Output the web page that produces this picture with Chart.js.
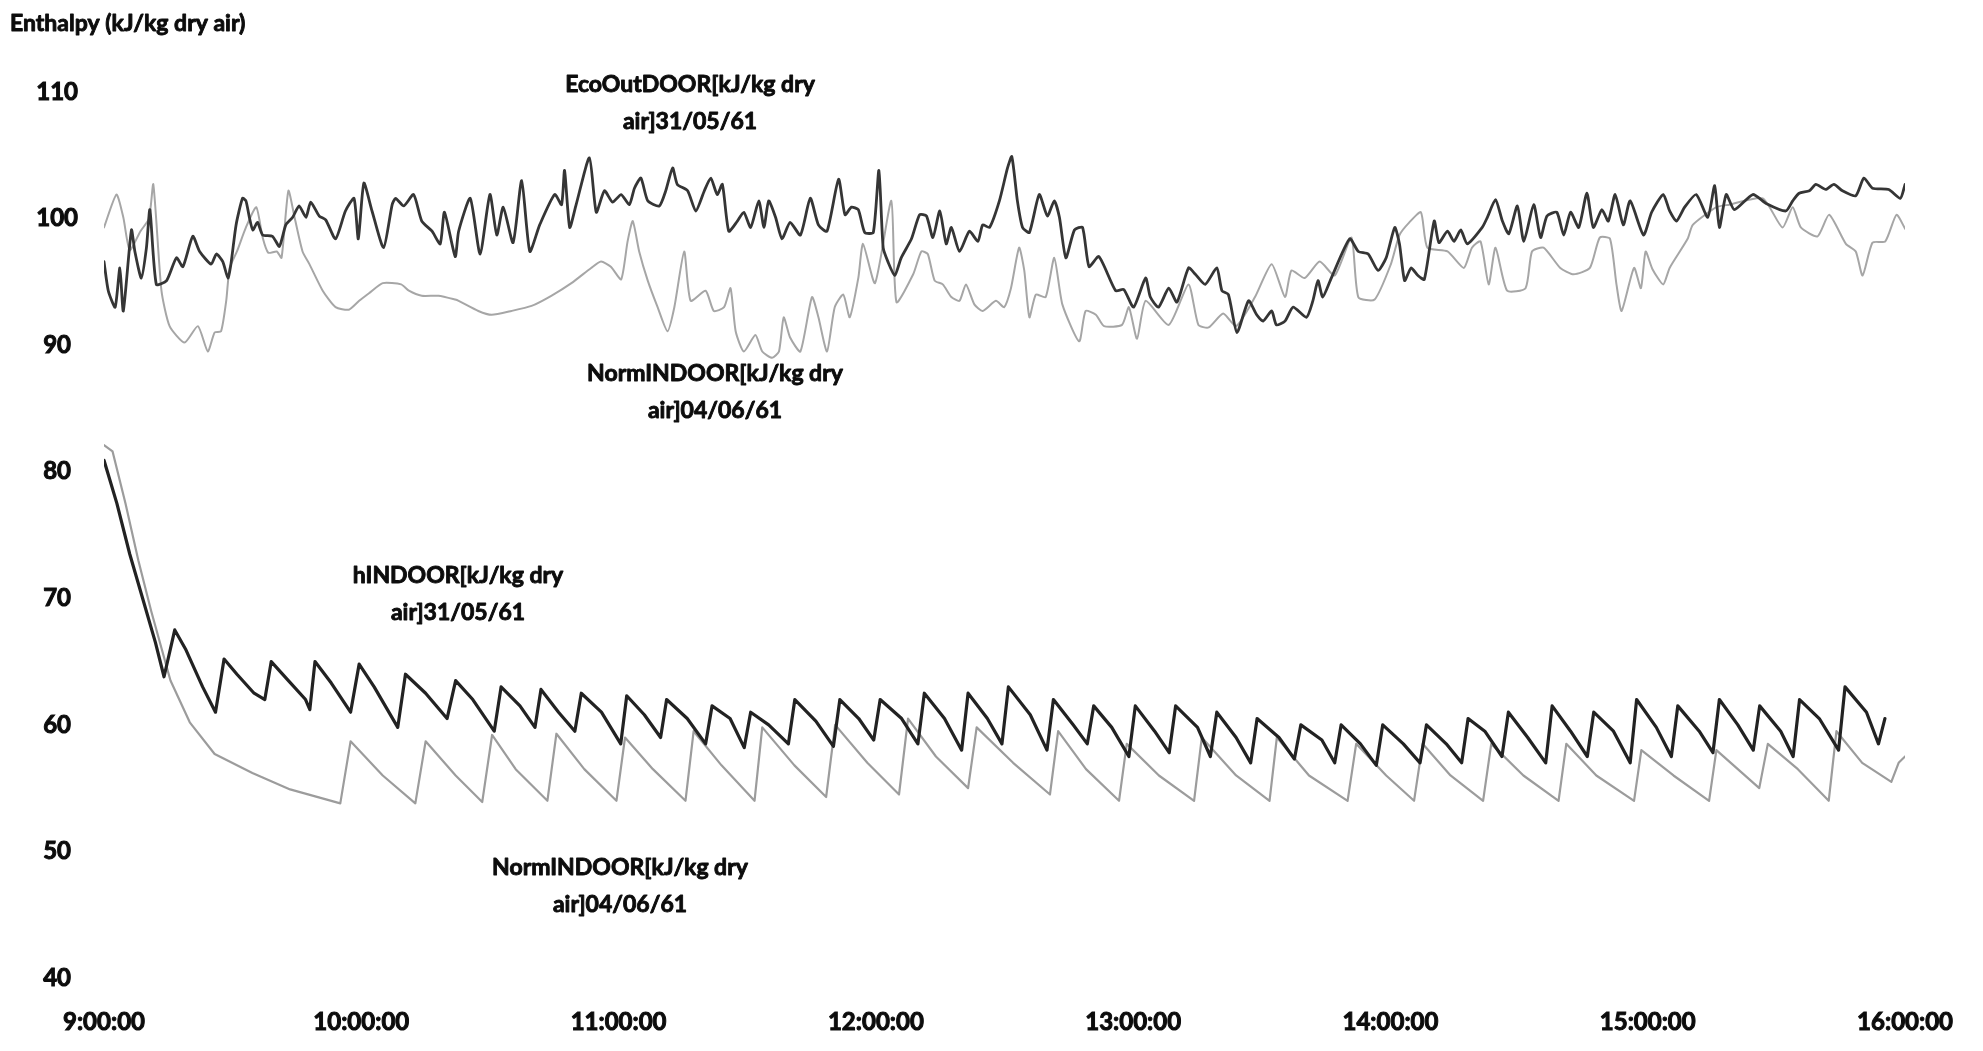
<!DOCTYPE html>
<html>
<head>
<meta charset="utf-8">
<script src="https://cdn.jsdelivr.net/npm/chart.js@4.4.1/dist/chart.umd.min.js"></script>
<style>
  html, body { margin: 0; padding: 0; background: #ffffff; }
  #wrap { width: 1983px; height: 1051px; position: relative; }
  canvas { display: block; }
</style>
</head>
<body>
<div id="wrap"><canvas id="chart" width="1983" height="1051"></canvas></div>
<script>
// Enthalpy records, 9:00 to 16:00; time is minutes after 9:00.
const yTicks = [40, 50, 60, 70, 80, 90, 100, 110];
const xTickLabels = ['9:00:00', '10:00:00', '11:00:00', '12:00:00', '13:00:00', '14:00:00', '15:00:00', '16:00:00'];

// EcoOutDOOR 31/05/61
const ecoOutTime = [0, 1.0, 2.6, 3.7, 4.5, 6.4, 7.2, 8.7, 9.9, 10.7, 12.2, 14.6, 16.9, 18.4, 20.7, 22.3, 25.0, 26.2, 27.7, 28.9, 29.6, 30.8, 32.3, 33.1, 33.9, 34.7, 35.8, 37.0, 39.3, 40.9, 42.4, 44.0, 45.5, 47.1, 48.2, 50.2, 51.7, 54.0, 56.3, 58.3, 59.3, 60.6, 62.5, 65.2, 67.2, 68.0, 69.9, 72.2, 74.1, 76.5, 78.4, 79.4, 81.9,
  82.7, 85.4, 87.7, 90.0, 91.6, 93.1, 95.4, 97.4, 99.3, 101.6, 105.1, 106.7, 107.4, 108.6, 110.1, 113.2, 114.8, 116.7, 118.6, 120.6, 122.5, 123.7, 125.2, 126.8, 129.5, 131.0, 132.6, 133.7, 136.1, 138.0, 140.0, 141.5, 143.0, 144.2, 145.7, 147.7, 149.2, 150.8, 152.7, 153.9, 155.0, 156.6, 158.1, 160.0, 162.4, 164.7, 166.6,
  168.6, 171.3, 172.8, 174.3, 175.9, 177.4, 179.4, 180.7, 181.7, 182.8, 184.4, 185.9, 188.3, 190.2, 191.8, 193.3, 194.9, 196.4, 197.6, 199.5, 201.8, 203.8, 204.9, 206.5, 208.8, 210.7, 211.7, 213.0, 214.2, 215.8, 218.1, 220.0, 221.6, 222.8, 224.3, 226.3, 228.2, 229.7, 232.0, 235.9, 237.8, 240.1, 242.9, 244.0, 245.9, 248.3, 250.2, 252.9,
  254.5, 256.8, 259.5, 260.7, 262.2, 264.2, 266.9, 268.8, 270.3, 272.3, 273.4, 275.4, 277.3, 280.4, 281.9, 283.1, 284.2, 286.2, 290.5, 292.5, 294.8, 297.1, 299.0, 301.0, 302.1, 303.3, 304.8, 306.4, 307.9, 310.2, 311.3, 313.3, 314.8, 316.4, 317.9, 321.4, 322.6, 324.5, 326.1, 327.6, 329.6, 331.1, 333.4, 335.0, 336.5, 338.8,
  340.4, 342.0, 343.9, 345.8, 347.3, 349.3, 350.8, 352.4, 354.3, 355.9, 359.0, 360.9, 363.6, 365.1, 366.7, 368.6, 371.3, 374.0, 375.6, 376.7, 378.3, 380.2, 384.5, 387.6, 392.2, 393.8, 395.3, 397.7, 399.2, 401.5, 403.4, 405.4, 408.5, 410.4, 412.4, 416.2, 418.9, 420];
const ecoOutValue = [96.6, 94.3, 93.0, 96.1, 92.7, 99.1, 97.4, 95.3, 97.7, 100.7, 94.8, 95.1, 96.9, 96.2, 98.6, 97.4, 96.4, 97.2, 96.6, 95.3, 96.4, 99.5, 101.6, 101.4, 100.1, 99.1, 99.7, 98.7, 98.6, 97.8, 99.5, 100.1, 101.0, 100.1, 101.3, 100.2, 99.9, 98.4, 100.6, 101.6, 98.4, 102.8, 100.6, 97.7, 101.1, 101.6, 101.0, 101.9, 99.8, 99.0, 98.0, 100.5, 97.0,
  99.0, 101.6, 97.2, 101.9, 98.7, 100.9, 98.1, 103.0, 97.4, 99.5, 101.9, 101.1, 103.8, 99.3, 101.1, 104.8, 100.5, 102.2, 101.3, 101.9, 101.1, 102.4, 103.2, 101.4, 101.0, 102.2, 104.0, 102.7, 102.2, 100.6, 102.2, 103.2, 101.9, 102.7, 99.0, 99.8, 100.5, 99.3, 101.4, 99.3, 101.4, 100.1, 98.4, 99.7, 98.7, 101.6, 99.5,
  99.0, 103.1, 100.3, 100.9, 100.7, 98.9, 98.9, 103.8, 97.7, 96.6, 95.5, 96.9, 98.4, 100.3, 100.2, 98.5, 100.6, 98.0, 99.3, 97.4, 99.0, 98.2, 99.5, 99.3, 101.4, 104.0, 104.9, 101.4, 99.3, 98.9, 101.9, 100.2, 101.4, 100.1, 96.9, 99.1, 99.3, 96.2, 97.0, 94.3, 94.4, 93.0, 95.3, 93.8, 93.0, 94.5, 93.4, 96.1,
  95.6, 94.8, 96.1, 94.3, 94.0, 91.0, 93.5, 92.4, 91.9, 92.7, 91.6, 91.9, 93.0, 92.2, 93.5, 95.1, 93.8, 95.3, 98.4, 97.4, 97.2, 95.9, 96.9, 99.3, 98.0, 95.1, 96.1, 95.5, 95.2, 99.8, 98.1, 99.0, 98.2, 99.1, 98.0, 99.3, 100.1, 101.5, 99.8, 98.8, 101.0, 98.2, 101.1, 98.5, 100.2, 100.5,
  98.7, 100.5, 99.3, 102.0, 99.3, 100.7, 99.8, 101.9, 99.5, 101.4, 98.7, 100.5, 101.9, 100.6, 99.8, 100.9, 101.9, 100.1, 102.6, 99.3, 101.9, 100.7, 101.9, 101.2, 100.6, 101.4, 102.0, 102.2, 102.7, 102.3, 102.7, 102.2, 101.8, 103.2, 102.4, 102.3, 101.6, 102.7];

// NormINDOOR 04/06/61 (upper trace)
const normUpTime = [0, 2.9, 4.5, 6.0, 8.5, 10.5, 11.5, 13.4, 15.3, 18.8, 21.9, 24.2, 25.8, 27.3, 28.5, 29.3, 31.0, 33.1, 35.5, 37.0, 38.3, 40.3, 41.4, 43.0, 44.5, 46.3, 47.9, 51.0, 54.0, 57.1, 59.5, 61.8, 65.0, 69.3, 71.1, 74.1, 78.0, 81.9,
  82.7, 87.3, 90.4, 95.0, 99.7, 104.3, 109.0, 113.6, 115.9, 118.2, 120.6, 122.1, 123.3, 124.8, 126.8, 129.1, 131.4, 133.0, 135.3, 136.8, 140.3, 142.2, 144.6, 146.1, 147.3, 149.2, 151.9, 153.5, 155.8, 157.4, 158.5, 160.0, 162.4, 165.1, 166.6, 168.6,
  170.4, 172.4, 173.9, 175.9, 177.0, 179.8, 183.6, 184.8, 188.7, 190.6, 192.1, 193.7, 195.6, 197.6, 199.5, 201.0, 203.0, 204.9, 208.0, 209.9, 211.5, 213.4, 214.6, 215.8, 217.3, 219.6, 221.6, 223.5, 227.4, 228.9, 231.3, 233.2, 237.4, 239.0, 240.9, 242.9, 248.3, 252.9,
  255.2, 257.6, 261.0, 264.0, 268.4, 272.3, 275.4, 276.9, 280.0, 283.5, 287.0, 290.9, 292.5, 296.3, 300.1, 302.1, 304.4, 307.1, 308.6, 313.3, 317.1, 319.0, 321.0, 322.9, 324.5, 327.2, 331.5, 333.0, 335.7, 339.6,
  342.7, 346.5, 348.8, 351.2, 352.7, 353.9, 356.8, 358.4, 359.5, 361.1, 363.6, 365.1, 369.3, 370.5, 376.0, 379.0, 386.8, 391.4, 393.8, 395.7, 399.6, 402.3, 406.2, 408.5, 410.1, 412.4, 415.4, 418.0, 420];
const normUpValue = [99.3, 101.9, 100.1, 97.5, 99.0, 100.0, 102.7, 94.3, 91.5, 90.2, 91.5, 89.5, 91.0, 91.1, 93.5, 96.1, 97.4, 99.3, 100.9, 98.5, 97.3, 97.4, 96.9, 102.2, 100.0, 97.4, 96.4, 94.3, 93.0, 92.8, 93.5, 94.1, 94.9, 94.8, 94.3, 93.9, 93.9, 93.6,
  93.5, 92.7, 92.4, 92.7, 93.1, 93.9, 94.9, 96.1, 96.6, 96.2, 95.2, 98.2, 99.8, 97.4, 95.1, 93.0, 91.1, 93.0, 97.4, 93.5, 94.3, 92.7, 93.0, 94.5, 91.1, 89.5, 90.8, 89.5, 89.0, 89.5, 92.2, 90.6, 89.5, 93.8, 92.2, 89.5,
  93.0, 94.0, 92.2, 95.3, 98.0, 94.9, 101.4, 93.4, 95.6, 97.4, 97.2, 95.1, 94.8, 93.8, 93.5, 94.8, 93.2, 92.7, 93.5, 93.0, 94.5, 97.7, 95.9, 92.2, 94.0, 93.8, 96.9, 93.2, 90.3, 92.7, 92.4, 91.5, 91.6, 93.0, 90.5, 93.5, 91.6, 94.8,
  91.6, 91.4, 92.5, 91.5, 93.8, 96.4, 93.8, 95.9, 95.3, 96.6, 95.5, 98.5, 93.8, 93.6, 96.4, 98.7, 99.7, 100.5, 97.7, 97.4, 96.1, 97.7, 98.2, 94.8, 97.7, 94.3, 94.5, 97.4, 97.7, 96.1,
  95.6, 96.1, 98.5, 98.4, 94.8, 92.7, 96.1, 94.5, 97.4, 96.0, 94.8, 96.1, 98.4, 99.5, 100.9, 101.1, 101.6, 99.3, 100.9, 99.3, 98.6, 100.3, 98.0, 97.4, 95.5, 98.1, 98.2, 100.3, 99.2];

// hINDOOR 31/05/61
const hIndoorTime = [0, 3, 6, 9, 12, 14, 16.5, 19, 23, 26, 28, 31, 35, 37.5, 39, 43, 47, 48, 49.2, 53, 57.5, 59.5, 63, 68.5, 70.3, 75, 80, 82, 86, 91, 92.6, 97, 100.5, 101.9, 106, 109.8, 111.3, 116, 120.5, 121.9, 126, 129.8, 131.2, 136, 140.3, 141.8, 146, 149.3, 150.8, 155, 159.6, 161.1, 166, 170.1, 171.6, 176, 179.5, 181, 186, 189.8, 191.3, 196, 200, 201.5, 206, 209.4, 210.9, 216, 219.9, 221.4, 226, 229.3, 230.8, 235, 239, 240.5, 245, 248.4, 249.9, 255, 258, 259.5, 264, 267.4, 268.9, 274, 277.6, 279.1, 284, 287, 288.5, 293, 296.7, 298.2, 303, 306.9, 308.4, 313, 316.6, 318.1, 322, 326, 327.5, 332, 336.2, 337.7, 342, 345.9, 347.4, 352, 355.9, 357.4, 362, 365.5, 367, 372, 375.2, 376.7, 381, 384.6, 386.1, 391, 393.9, 395.4, 400, 404.5, 406, 411, 413.8, 415.3, 418, 420];
const hIndoorValue = [80.9, 77.5, 73.5, 70.0, 66.5, 63.8, 67.5, 66.0, 63.0, 61.0, 65.2, 64.0, 62.5, 62.0, 65.0, 63.5, 62.0, 61.2, 65.0, 63.3, 61.0, 64.8, 63.0, 59.8, 64.0, 62.5, 60.5, 63.5, 62.0, 59.5, 63.0, 61.5, 59.8, 62.8, 61.0, 59.5, 62.5, 61.0, 58.5, 62.3, 60.8, 59.0, 62.0, 60.5, 58.5, 61.5, 60.5, 58.2, 61.0, 60.0, 58.5, 62.0, 60.3, 58.3, 62.0, 60.5, 58.8, 62.0, 60.5, 58.5, 62.5, 60.5, 58.0, 62.5, 60.5, 58.5, 63.0, 60.8, 58.0, 62.0, 60.0, 58.5, 61.5, 59.8, 57.5, 61.5, 59.5, 57.8, 61.5, 59.8, 57.5, 61.0, 59.0, 57.0, 60.5, 59.0, 57.3, 60.0, 58.8, 57.0, 60.0, 58.5, 56.8, 60.0, 58.5, 57.0, 60.0, 58.5, 57.0, 60.5, 59.5, 57.5, 61.0, 59.0, 57.0, 61.5, 59.5, 57.5, 61.0, 59.5, 57.0, 62.0, 59.8, 57.5, 61.5, 59.5, 57.8, 62.0, 60.0, 58.0, 61.5, 59.5, 57.5, 62.0, 60.5, 58.0, 63.0, 61.0, 58.5, 60.5];

// NormINDOOR 04/06/61 (lower trace)
const normLowTime = [0, 2, 5, 8, 11, 15.5, 20, 25.8, 34.6, 43.4, 55.1, 57.5, 65, 72.6, 75, 82, 88.2, 90.5, 96, 103.4, 105.5, 112, 119.5, 121.5, 128, 135.6, 137.5, 144, 151.7, 153.5, 161, 168.4, 170.5, 178, 185.4, 187.5, 194, 201.5, 203.5, 212, 220.6, 222.5, 229, 236.7, 238.5, 246, 254.2, 256, 264, 271.8, 273.5, 281, 290, 292, 299, 305.5, 307.5, 314, 321.6, 323.5, 331, 339.2, 341, 348, 356.8, 358.5, 366, 374.3, 376, 381, 386, 388, 395, 402.2, 404, 410, 416.8, 418.5, 420];
const normLowValue = [82.1, 81.6, 77.5, 73.0, 69.0, 63.5, 60.2, 57.7, 56.2, 54.9, 53.8, 58.7, 56.0, 53.8, 58.7, 56.0, 53.9, 59.2, 56.5, 54.0, 59.3, 56.5, 54.0, 59.0, 56.5, 54.0, 59.5, 56.8, 54.0, 59.8, 56.8, 54.3, 60.0, 57.0, 54.5, 60.5, 57.5, 55.0, 59.8, 57.0, 54.5, 59.5, 56.5, 54.0, 58.5, 56.0, 54.0, 59.0, 56.0, 54.0, 59.0, 56.0, 54.0, 58.5, 56.0, 54.0, 58.5, 56.0, 54.0, 58.5, 56.0, 54.0, 58.5, 56.0, 54.0, 58.0, 56.0, 54.0, 58.0, 56.5, 55.0, 58.5, 56.5, 54.0, 59.5, 57.0, 55.5, 57.0, 57.5];

function points(times, values) {
  return times.map((t, i) => ({ x: t, y: values[i] }));
}

const textFont = '"Lato", "Liberation Sans", sans-serif';
const textColor = '#0c0c0c';

// Series names written beside the traces
const seriesLabels = [
  { lines: ['EcoOutDOOR[kJ/kg dry', 'air]31/05/61'], x: 690, y: 85 },
  { lines: ['NormINDOOR[kJ/kg dry', 'air]04/06/61'], x: 715, y: 374 },
  { lines: ['hINDOOR[kJ/kg dry', 'air]31/05/61'], x: 458, y: 576 },
  { lines: ['NormINDOOR[kJ/kg dry', 'air]04/06/61'], x: 620, y: 868 }
];

function heavyText(ctx, text, x, y) {
  ctx.strokeText(text, x, y);
  ctx.fillText(text, x, y);
}

const textPlugin = {
  id: 'textPlugin',
  afterDraw(chart) {
    const ctx = chart.ctx;
    ctx.save();
    ctx.fillStyle = textColor;
    ctx.strokeStyle = textColor;
    ctx.lineWidth = 0.9;
    ctx.lineJoin = 'round';
    ctx.textBaseline = 'middle';
    ctx.font = 'bold 23px ' + textFont;
    ctx.textAlign = 'left';
    heavyText(ctx, 'Enthalpy (kJ/kg dry air)', 10, 24);
    ctx.textAlign = 'center';
    seriesLabels.forEach(lbl => {
      lbl.lines.forEach((ln, i) => heavyText(ctx, ln, lbl.x, lbl.y + i * 37));
    });
    ctx.restore();
  }
};

new Chart(document.getElementById('chart'), {
  type: 'line',
  data: {
    datasets: [
      { label: 'hINDOOR[kJ/kg dry air]31/05/61', data: points(hIndoorTime, hIndoorValue), borderColor: '#222222', borderWidth: 3.2, tension: 0 },
      { label: 'EcoOutDOOR[kJ/kg dry air]31/05/61', data: points(ecoOutTime, ecoOutValue), borderColor: '#353535', borderWidth: 2.8, tension: 0.2 },
      { label: 'NormINDOOR[kJ/kg dry air]04/06/61', data: points(normLowTime, normLowValue), borderColor: '#9c9c9c', borderWidth: 2.2, tension: 0 },
      { label: 'NormINDOOR[kJ/kg dry air]04/06/61', data: points(normUpTime, normUpValue), borderColor: '#a6a6a6', borderWidth: 2, tension: 0.2 }
    ]
  },
  options: {
    responsive: false,
    animation: false,
    events: [],
    layout: { padding: { left: 0, right: 65, top: 92, bottom: 12 } },
    elements: { point: { radius: 0 }, line: { borderJoinStyle: 'round', borderCapStyle: 'round' } },
    plugins: { legend: { display: false }, tooltip: { enabled: false }, title: { display: false } },
    scales: {
      x: {
        type: 'linear', min: 0, max: 420,
        border: { display: false },
        grid: { display: false, drawTicks: false },
        afterBuildTicks(scale) { scale.ticks = xTickLabels.map((_, i) => ({ value: i * 60 })); },
        afterFit(scale) { scale.height = 61; },
        ticks: {
          padding: 30, maxRotation: 0, autoSkip: false,
          color: textColor, textStrokeColor: textColor, textStrokeWidth: 1,
          font: { family: textFont, size: 24, weight: 'bold' },
          callback: (v) => xTickLabels[Math.round(v / 60)]
        }
      },
      y: {
        min: 40, max: 110,
        border: { display: false },
        grid: { display: false, drawTicks: false },
        afterBuildTicks(scale) { scale.ticks = yTicks.map(v => ({ value: v })); },
        afterFit(scale) { scale.width = 104; },
        ticks: {
          padding: 26, crossAlign: 'center',
          color: textColor, textStrokeColor: textColor, textStrokeWidth: 1,
          font: { family: textFont, size: 24, weight: 'bold' }
        }
      }
    }
  },
  plugins: [textPlugin]
});
</script>
</body>
</html>
